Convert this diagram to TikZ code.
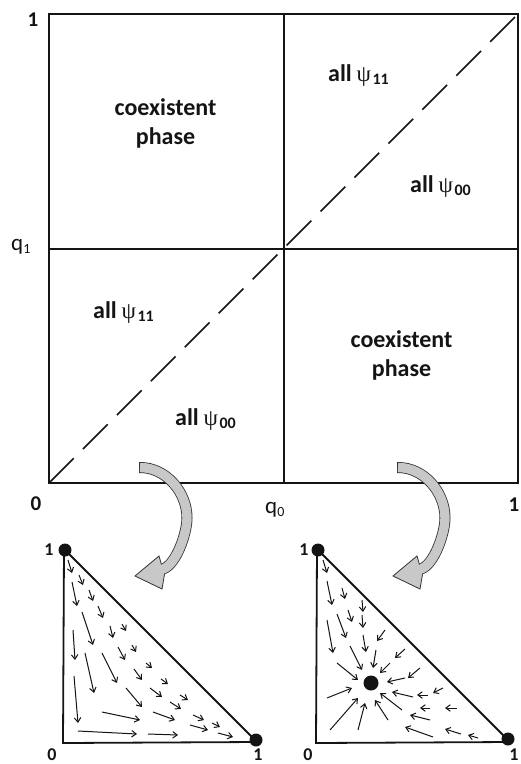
\documentclass[tikz,border=0pt]{standalone}
\usepackage{fontspec}
\setmainfont{Carlito}
\newfontfamily\greekf{Liberation Serif}
\usetikzlibrary{arrows.meta}
\definecolor{arrowgray}{RGB}{200,200,200}
\definecolor{arrowline}{RGB}{50,50,50}
\definecolor{ink}{RGB}{20,20,20}
\newcommand\psiall[1]{all\hspace{0.2em}{\greekf\mdseries\fontsize{23}{27}\selectfont ψ}\hspace{1.5pt}\raisebox{-3.5pt}{\fontsize{16}{18}\selectfont\bfseries #1}}
\newcommand\qsub[1]{q\raisebox{-3.5pt}{\fontsize{14}{15}\selectfont #1}}
\begin{document}
\begin{tikzpicture}[x=1pt,y=-1pt,
  frame/.style={line width=2pt, draw=ink},
  diag/.style={line width=1.6pt, draw=ink, dash pattern=on 35pt off 13pt},
  tri/.style={line width=1.8pt, draw=ink, line join=miter},
  dot/.style={circle, fill=ink, inner sep=0pt, minimum size=13pt},
  fa/.style={line width=1pt, draw=ink, -{Straight Barb[length=4.5pt,width=6.5pt]}},
  lbl/.style={inner sep=0pt, text=ink, font=\fontsize{21}{25}\selectfont\bfseries},
  tlbl/.style={inner sep=0pt, text=ink, font=\fontsize{18}{22}\selectfont\bfseries},
  qlbl/.style={inner sep=0pt, anchor=base west, text=ink, font=\fontsize{23}{27}\selectfont},
  region/.style={inner sep=0pt, anchor=base, text=ink, font=\fontsize{24}{29}\selectfont\bfseries},
  psilbl/.style={inner sep=0pt, anchor=base west, text=ink, font=\fontsize{24}{29}\selectfont\bfseries},
  curvarrow/.pic={
    \filldraw[fill=arrowgray, draw=arrowline, line width=0.8pt, line join=miter]
      (161.4,564.2) -- (159,556) -- (135,576) -- (162,589) -- (164.6,573.8) -- cycle;
    \draw[arrowline, line width=11pt] (139.2,467.5) -- (140,467.5)
      .. controls (166,467.5) and (187,492) .. (187,518)
      .. controls (187,533) and (176.3,564.5) .. (163,569);
    \draw[arrowgray, line width=9.4pt] (140,467.5)
      .. controls (166,467.5) and (187,492) .. (187,518)
      .. controls (187,533) and (176.3,564.5) .. (163,569) -- (161.6,569.5);
  }
]
\useasboundingbox (0,0) rectangle (521,764);
% main square
\coordinate (SW) at (49,483);
\coordinate (SE) at (518,483);
\coordinate (NE) at (518,14);
\coordinate (NW) at (49,14);
\coordinate (TM) at (283.5,14);
\coordinate (BM) at (283.5,483);
\coordinate (LM) at (49,248.5);
\coordinate (RM) at (518,248.5);
\draw[diag] (SW) -- (NE);
\draw[frame] (SW) rectangle (NE);
\draw[frame] (TM) -- (BM);
\draw[frame] (LM) -- (RM);
% axis labels
\node[lbl] (ltop) at (33,20) {1};
\node[qlbl] (lq1) at (11,250) {\qsub{1}};
\node[lbl] (lzero) at (36,504) {0};
\node[qlbl] (lq0) at (265,513) {\qsub{0}};
\node[lbl] (lright) at (514,505) {1};
% region labels
\node[region] (c1a) at (165.5,115) {coexistent};
\node[region] (c1b) at (165.5,144) {phase};
\node[region] (c2a) at (401.5,347) {coexistent};
\node[region] (c2b) at (401.5,376) {phase};
\node[psilbl] (p1) at (328,81) {\psiall{11}};
\node[psilbl] (p2) at (410,192) {\psiall{00}};
\node[psilbl] (p3) at (93,318) {\psiall{11}};
\node[psilbl] (p4) at (175,425) {\psiall{00}};
% curved arrows
\pic (arrL) at (0,0) {curvarrow};
\pic (arrR) at (258,0) {curvarrow};
% left triangle
\coordinate (LA) at (64,549);
\coordinate (LO) at (63,743);
\coordinate (LB) at (257,742);
\draw[tri] (LA) -- (LO) -- (LB) -- cycle;
\node[dot] (dLA) at (65,550) {};
\node[dot] (dLB) at (256,740) {};
\node[tlbl] (tl1) at (49,550) {1};
\node[tlbl] (tl0) at (52,754.5) {0};
\node[tlbl] (tl2) at (258,754.5) {1};
\foreach \a/\b/\c/\d in {68/560/72/573, 79/575/83/585, 72/582/77/606, 89/590/93/601,
  98/606/103/618, 82/612/93/645, 73/630/75/660, 110/626/113/638, 122/624/126/631,
  118/647/125/660, 132/645/136/652, 85/653/94/693, 102/653/117/683, 134/669/142/680,
  146/663/152/668, 74/676/78/723, 126/688/142/707, 150/688/162/697, 161/679/168/684,
  180/695/188/700, 102/712/140/720, 153/712/175/720, 170/702/181/709, 193/715/204/720,
  190/725/208/730, 212/723/220/727, 218/733/233/737, 78/731/137/734, 148/734/178/735}
  \draw[fa] (\a,\b) -- (\c,\d);
% right triangle
\coordinate (RA) at (317,549);
\coordinate (RO) at (316,743);
\coordinate (RB) at (510,742);
\draw[tri] (RA) -- (RO) -- (RB) -- cycle;
\node[dot] (dRA) at (318,550) {};
\node[dot] (dRB) at (508,739) {};
\node[dot, minimum size=15pt] (dRC) at (371,683) {};
\node[tlbl] (tr1) at (304,550) {1};
\node[tlbl] (tr0) at (308,754.5) {0};
\node[tlbl] (tr2) at (514,754.5) {1};
\foreach \a/\b/\c/\d in {323/560/327/573, 327/581/332/605, 342/588/345/599, 362/600/363/612,
  348/610/352/622, 362/615/363/628, 337/614/346/638, 327/620/333/653, 385/630/377/641,
  363/635/366/652, 350/646/362/670, 376/650/373/668, 405/649/395/658, 390/663/380/673,
  337/663/358/680, 420/668/408/678, 405/678/387/682, 443/688/433/693, 428/695/417/695,
  413/697/392/692, 327/698/352/688, 330/730/358/698, 358/730/365/703, 388/720/375/700,
  402/710/380/693, 430/708/420/708, 457/708/445/708, 430/720/410/715, 433/737/405/727,
  461/734/445/729, 478/738/468/735}
  \draw[fa] (\a,\b) -- (\c,\d);
\end{tikzpicture}
\end{document}
